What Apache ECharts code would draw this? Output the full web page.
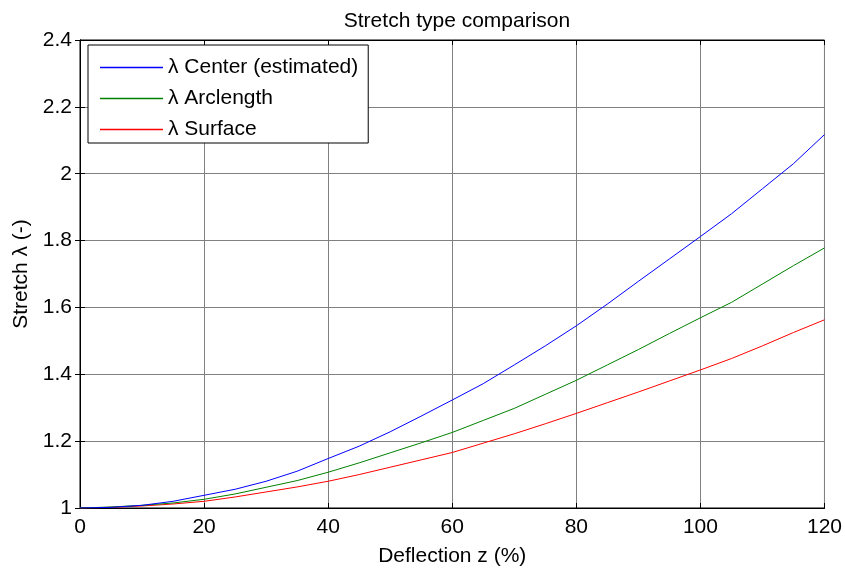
<!DOCTYPE html>
<html>
<head>
<meta charset="utf-8">
<title>Stretch type comparison</title>
<script src="https://cdn.jsdelivr.net/npm/echarts@6.0.0/dist/echarts.min.js"></script>
<style>
  body { margin: 0; background: #fff; }
  #main { width: 845px; height: 575px; }
</style>
</head>
<body>
<div id="main"></div>
<script>
// deflection z (%)
const deflection = [0, 5, 10, 15, 20, 25, 30, 35, 40, 45, 50, 55, 60, 65, 70, 75, 80, 85, 90, 95, 100, 105, 110, 115, 120];

// stretch values
const centerStretch = [1.000, 1.002, 1.008, 1.020, 1.038, 1.056, 1.080, 1.110, 1.148, 1.185, 1.228, 1.275, 1.323, 1.372, 1.428, 1.485, 1.545, 1.610, 1.678, 1.745, 1.812, 1.880, 1.955, 2.030, 2.117];
const arcStretch = [1.000, 1.003, 1.008, 1.015, 1.026, 1.042, 1.062, 1.082, 1.107, 1.135, 1.165, 1.195, 1.226, 1.262, 1.298, 1.340, 1.382, 1.428, 1.474, 1.522, 1.569, 1.615, 1.670, 1.725, 1.778];
const surfaceStretch = [1.000, 1.002, 1.006, 1.012, 1.020, 1.033, 1.048, 1.063, 1.080, 1.100, 1.122, 1.144, 1.166, 1.194, 1.222, 1.252, 1.283, 1.315, 1.347, 1.380, 1.413, 1.447, 1.485, 1.525, 1.563];

const seriesNames = ['λ Center (estimated)', 'λ Arclength', 'λ Surface'];
const seriesColors = ['#0000ff', '#008000', '#ff0000'];
const seriesValues = [centerStretch, arcStretch, surfaceStretch];

const font = 'Liberation Sans, Arial, sans-serif';
const fs = 21;

function pairs(ys) {
  return deflection.map((x, i) => [x, ys[i]]);
}

const tickStyle = { show: true, inside: true, length: 5, lineStyle: { color: '#000' } };

const option = {
  animation: false,
  title: {
    text: 'Stretch type comparison',
    left: 452, top: 6, textAlign: 'center',
    textStyle: { fontFamily: font, fontSize: fs, fontWeight: 'normal', color: '#000' }
  },
  grid: { left: 80, right: 20, top: 40, bottom: 67, show: true, borderColor: '#000', borderWidth: 1 },
  legend: {
    left: 88, top: 45, orient: 'vertical',
    data: seriesNames,
    icon: 'rect',
    backgroundColor: '#fff', borderColor: '#000', borderWidth: 1,
    padding: [12, 10, 3, 12],
    itemWidth: 63, itemHeight: 1.5, itemGap: 10,
    textStyle: { fontFamily: font, fontSize: fs, lineHeight: 21, color: '#000' }
  },
  xAxis: [{
    type: 'value', min: 0, max: 120, interval: 20,
    name: 'Deflection z (%)', nameLocation: 'middle', nameGap: 38,
    nameTextStyle: { fontFamily: font, fontSize: fs, color: '#000' },
    axisLine: { show: true, lineStyle: { color: '#000' } },
    axisTick: tickStyle,
    axisLabel: { fontFamily: font, fontSize: fs, color: '#000', margin: 9 },
    splitLine: { show: true, lineStyle: { color: '#808080', width: 1 } }
  }, {
    type: 'value', min: 0, max: 120, interval: 20, position: 'top',
    axisLine: { show: true, lineStyle: { color: '#000' } },
    axisTick: tickStyle, axisLabel: { show: false }, splitLine: { show: false }
  }],
  yAxis: [{
    type: 'value', min: 1, max: 2.4, interval: 0.2,
    name: 'Stretch λ (-)', nameLocation: 'middle', nameGap: 47,
    nameTextStyle: { fontFamily: font, fontSize: fs, color: '#000' },
    axisLine: { show: true, lineStyle: { color: '#000' } },
    axisTick: tickStyle,
    axisLabel: { fontFamily: font, fontSize: fs, color: '#000', margin: 8 },
    splitLine: { show: true, lineStyle: { color: '#808080', width: 1 } }
  }, {
    type: 'value', min: 1, max: 2.4, interval: 0.2, position: 'right',
    axisLine: { show: true, lineStyle: { color: '#000' } },
    axisTick: tickStyle, axisLabel: { show: false }, splitLine: { show: false }
  }],
  series: seriesNames.map((name, i) => ({
    name: name,
    type: 'line',
    data: pairs(seriesValues[i]),
    symbol: 'none',
    lineStyle: { color: seriesColors[i], width: 1 },
    itemStyle: { color: seriesColors[i] },
    z: 3 - i
  }))
};

const chart = echarts.init(document.getElementById('main'));
chart.setOption(option);
</script>
</body>
</html>
